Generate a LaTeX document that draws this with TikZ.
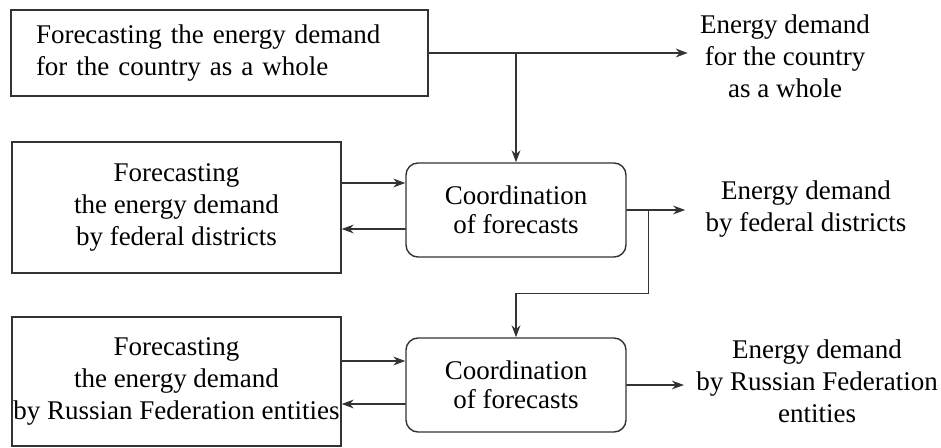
\documentclass[tikz,border=0pt]{standalone}
\usepackage{fontspec}
\setmainfont{Liberation Serif}
\usetikzlibrary{arrows.meta}

\begin{document}
\begin{tikzpicture}
	[x=0.5pt,y=-0.5pt,line cap=round,
	%Styles
	flow/.style={draw=black!80,line width=0.7pt,-{Stealth[length=6pt,width=4.4pt]}},
	task/.style={draw=black!80,line width=0.7pt,inner sep=0pt,align=center,font=\fontsize{13.5}{16}\selectfont},
	coord box/.style={task,rounded corners=6pt,minimum width=110pt,minimum height=47pt,font=\fontsize{13.5}{14.5}\selectfont},
	result/.style={align=center,inner xsep=6pt,font=\fontsize{13.5}{16}\selectfont}
	]
	
	\useasboundingbox (0,0) rectangle (941,448);
	
	%Forecasting blocks
	\node[task,align=left,text width=183.5pt,inner xsep=12.5pt,minimum height=43pt] (country) at (219.5,53)
		{Forecasting the energy demand\\for the country as a whole};
	\node[task,minimum width=164.5pt,minimum height=65.5pt] (districts) at (176.5,207.5)
		{Forecasting\\the energy demand\\by federal districts};
	\node[task,minimum width=164.5pt,minimum height=64.5pt] (entities) at (176.5,381.5)
		{Forecasting\\the energy demand\\by Russian Federation entities};
	
	%Coordination
	\node[coord box] (coord1) at (516,210) {Coordination\\of forecasts};
	\node[coord box] (coord2) at (516,385) {Coordination\\of forecasts};
	
	%Results
	\node[result] (res1) at (785,56) {Energy demand\\for the country\\as a whole};
	\node[result,inner xsep=10pt] (res2) at (806,209) {Energy demand\\by federal districts};
	\node[result] (res3) at (817,381) {Energy demand\\by Russian Federation\\entities};
	
	%The graphic
	\draw[flow] (country.east) -- (country.east -| res1.west);
	\draw[flow] (country.east -| coord1.north) -- (coord1.north);
	
	\draw[flow] ([yshift=13.5pt]coord1.west -| districts.east) -- ([yshift=13.5pt]coord1.west);
	\draw[flow] ([yshift=-9.5pt]coord1.west) -- ([yshift=-9.5pt]coord1.west -| districts.east);
	\draw[flow] (coord1.east) -- (coord1.east -| res2.west);
	\draw[flow] ([xshift=11pt]coord1.east) |- ([yshift=-18pt]coord1.south) -- (coord2.north);
	
	\draw[flow] ([yshift=12pt]coord2.west -| entities.east) -- ([yshift=12pt]coord2.west);
	\draw[flow] ([yshift=-9.5pt]coord2.west) -- ([yshift=-9.5pt]coord2.west -| entities.east);
	\draw[flow] (coord2.east) -- (coord2.east -| res3.west);
\end{tikzpicture}
\end{document}
